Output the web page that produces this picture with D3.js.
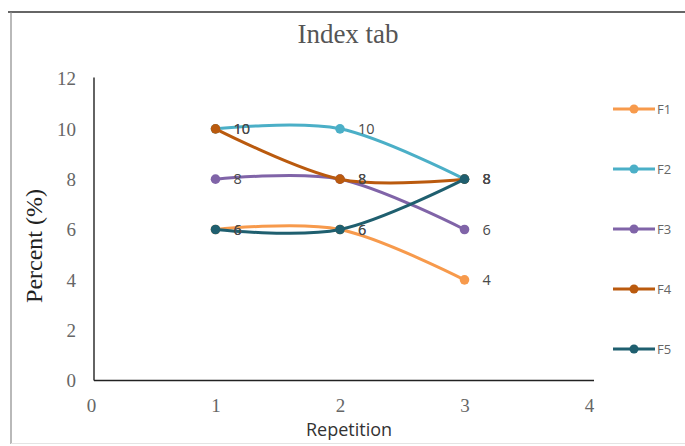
<!DOCTYPE html>
<html>
<head>
<meta charset="utf-8">
<script src="https://cdn.jsdelivr.net/npm/d3@7"></script>
<style>
  html, body { margin: 0; padding: 0; background: #fff; }
  svg { display: block; }
</style>
</head>
<body>
<svg id="chart" width="685" height="446"></svg>
<script>
// Repetition index (x) and the percent values of each formula at that repetition
const repetitions = [1, 2, 3];
const seriesNames = ["F1", "F2", "F3", "F4", "F5"];
const F1 = [6, 6, 4];
const F2 = [10, 10, 8];
const F3 = [8, 8, 6];
const F4 = [10, 8, 8];
const F5 = [6, 6, 8];
const seriesColors = ["#F79A4C", "#4BAFC7", "#8064A8", "#BA5A0E", "#1F5F6F"];
const xTicks = [0, 1, 2, 3, 4];
const yTicks = [0, 2, 4, 6, 8, 10, 12];

const seriesValues = [F1, F2, F3, F4, F5];
const series = seriesNames.map((name, i) => ({
  name,
  color: seriesColors[i],
  points: repetitions.map((r, j) => ({ x: r, y: seriesValues[i][j] }))
}));

const svg = d3.select("#chart");

// chart frame
svg.append("line").attr("x1", 8).attr("x2", 685).attr("y1", 12).attr("y2", 12)
  .attr("stroke", "#333").attr("stroke-width", 1.6);
svg.append("line").attr("x1", 11).attr("x2", 11).attr("y1", 12).attr("y2", 444)
  .attr("stroke", "#8a8a8a").attr("stroke-width", 1.2);
svg.append("line").attr("x1", 11).attr("x2", 685).attr("y1", 443.5).attr("y2", 443.5)
  .attr("stroke", "#e4e4e4").attr("stroke-width", 1);

const x = d3.scaleLinear().domain([0, 4]).range([91, 589]);
const y = d3.scaleLinear().domain([0, 12]).range([380.5, 78.5]);

// title
svg.append("text")
  .attr("x", 348).attr("y", 43)
  .attr("text-anchor", "middle")
  .attr("font-family", "Liberation Serif, DejaVu Serif, serif")
  .attr("font-size", 27)
  .attr("fill", "#555")
  .text("Index tab");

// y axis
const yAxis = d3.axisLeft(y).tickValues(yTicks).tickSize(0).tickPadding(0).tickFormat(d3.format("d"));
const gy = svg.append("g").attr("transform", "translate(94,0)").call(yAxis);
gy.select(".domain").remove();
gy.selectAll("text")
  .attr("x", -18)
  .attr("dy", "0.34em")
  .attr("font-family", "Liberation Serif, DejaVu Serif, serif")
  .attr("font-size", 19)
  .attr("fill", "#666");
svg.append("line").attr("x1", 94).attr("x2", 94).attr("y1", y(12) - 1).attr("y2", y(0))
  .attr("stroke", "#222").attr("stroke-width", 1.4);

// x axis
const xAxis = d3.axisBottom(x).tickValues(xTicks).tickSize(0).tickPadding(0).tickFormat(d3.format("d"));
const gx = svg.append("g").attr("transform", `translate(0,${y(0)})`).call(xAxis);
gx.select(".domain").remove();
gx.selectAll("text")
  .attr("y", 18)
  .attr("dy", "0.71em")
  .attr("font-family", "Liberation Serif, DejaVu Serif, serif")
  .attr("font-size", 19)
  .attr("fill", "#666");
svg.append("line").attr("x1", 94).attr("x2", 594).attr("y1", y(0)).attr("y2", y(0))
  .attr("stroke", "#222").attr("stroke-width", 1.4);

// axis titles
svg.append("text")
  .attr("x", 349).attr("y", 436)
  .attr("text-anchor", "middle")
  .attr("font-family", "Open Sans, Liberation Sans, sans-serif")
  .attr("font-size", 18)
  .attr("fill", "#333")
  .text("Repetition");

svg.append("text")
  .attr("transform", "translate(42,246) rotate(-90)")
  .attr("text-anchor", "middle")
  .attr("font-family", "Liberation Serif, DejaVu Serif, serif")
  .attr("font-size", 24)
  .attr("fill", "#222")
  .text("Percent (%)");

// smoothed lines with markers
const line = d3.line()
  .x(d => x(d.x))
  .y(d => y(d.y))
  .curve(d3.curveCardinal.tension(0));

const gs = svg.append("g").selectAll("g").data(series).join("g");
gs.append("path")
  .attr("d", d => line(d.points))
  .attr("fill", "none")
  .attr("stroke", d => d.color)
  .attr("stroke-width", 3)
  .attr("stroke-linecap", "round");
gs.selectAll("circle")
  .data(d => d.points.map(p => ({ ...p, color: d.color })))
  .join("circle")
  .attr("cx", d => x(d.x))
  .attr("cy", d => y(d.y))
  .attr("r", 4.8)
  .attr("fill", d => d.color);

// data labels
const gl = svg.append("g");
series.forEach(s => {
  gl.selectAll(null)
    .data(s.points)
    .join("text")
    .attr("x", d => x(d.x) + 18)
    .attr("y", d => y(d.y))
    .attr("dy", "0.36em")
    .attr("font-family", "Open Sans, Liberation Sans, sans-serif")
    .attr("font-size", 14.5)
    .attr("fill", "#4a4a4a")
    .text(d => d.y);
});

// legend
const legendY = d3.scalePoint().domain(seriesNames).range([109, 349]);
const lg = svg.append("g").selectAll("g").data(series).join("g")
  .attr("transform", d => `translate(0,${legendY(d.name)})`);
lg.append("line")
  .attr("x1", 613).attr("x2", 655)
  .attr("stroke", d => d.color).attr("stroke-width", 3);
lg.append("circle")
  .attr("cx", 634).attr("r", 4.5)
  .attr("fill", d => d.color);
lg.append("text")
  .attr("x", 657).attr("dy", "0.36em")
  .attr("font-family", "Open Sans, Liberation Sans, sans-serif")
  .attr("font-size", 13)
  .attr("fill", "#666")
  .text(d => d.name);
</script>
</body>
</html>
